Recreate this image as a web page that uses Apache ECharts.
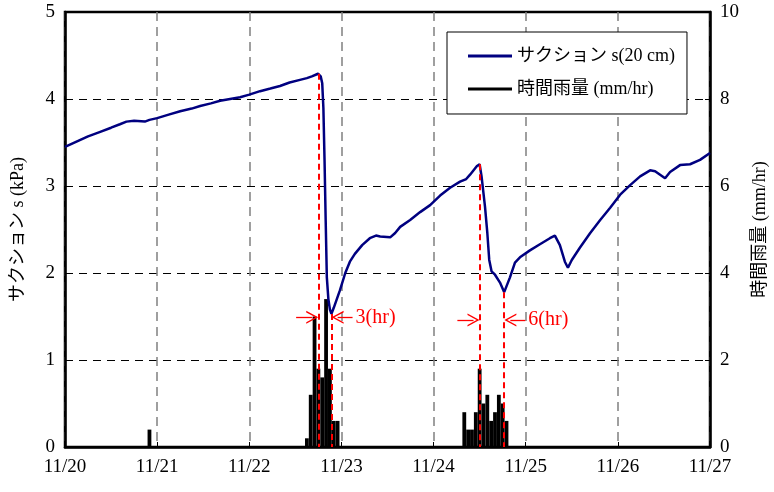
<!DOCTYPE html>
<html>
<head>
<meta charset="utf-8">
<script src="https://cdn.jsdelivr.net/npm/echarts@6/dist/echarts.min.js"></script>
<style>
  html, body { margin: 0; padding: 0; background: #fff; }
  #chart { width: 774px; height: 492px; }
</style>
</head>
<body>
<div id="chart"></div>
<script>
// Time axis in hours from 11/20 00:00; one label per day
const dayLabels = ['11/20', '11/21', '11/22', '11/23', '11/24', '11/25', '11/26', '11/27'];

// Suction at 20 cm depth (kPa)
const suctionHours = [
  0, 2, 4, 6, 9, 12, 14.3, 16, 18, 20.8, 22, 24, 27, 30, 33, 35.2, 38, 40.4, 43, 45.6,
  48, 50.8, 53.5, 56, 58.5, 61.2, 63, 64.3, 65.9, 66.6, 67.0, 67.3, 67.6, 67.9, 68.2, 68.6,
  69.0, 69.4, 70.0, 70.8, 71.6, 73.0, 74.2, 75.5, 77.4, 79.4, 81, 82.1, 84.7, 86.0, 87.3,
  89.9, 92.5, 95.1, 97.7, 100.3, 102.9, 104.5, 105.5, 107.3, 108.0, 108.5, 109.4, 110.0,
  110.5, 111.1, 112.0, 113.3, 114.4, 115.9, 117.2, 118.5, 121.1, 123.7, 126.3, 127.6,
  128.9, 130.2, 131.0, 132.0, 134.1, 136.8, 139.4, 142.0, 144.6, 147.2, 149.8, 152.4,
  153.7, 156.3, 157.6, 160.2, 162.8, 165.4, 168
];
const suctionKPa = [
  3.45, 3.49, 3.53, 3.57, 3.62, 3.67, 3.71, 3.74, 3.75, 3.74, 3.76, 3.78, 3.82, 3.86, 3.89, 3.92, 3.95, 3.98, 4.00, 4.02,
  4.05, 4.09, 4.12, 4.15, 4.19, 4.22, 4.24, 4.26, 4.29, 4.26, 4.18, 3.90, 3.30, 2.60, 1.95, 1.70,
  1.58, 1.53, 1.60, 1.70, 1.80, 2.00, 2.13, 2.22, 2.32, 2.40, 2.43, 2.42, 2.41, 2.46, 2.53,
  2.61, 2.70, 2.78, 2.89, 2.98, 3.05, 3.08, 3.13, 3.23, 3.25, 3.11, 2.76, 2.46,
  2.15, 2.02, 1.98, 1.89, 1.78, 1.95, 2.12, 2.18, 2.26, 2.33, 2.40, 2.43,
  2.32, 2.13, 2.06, 2.15, 2.29, 2.46, 2.61, 2.75, 2.90, 3.01, 3.11, 3.18,
  3.17, 3.09, 3.16, 3.24, 3.25, 3.30, 3.38
];

// Hourly rainfall (mm/hr), non-zero hours only
const rainHours = [22, 63, 64, 65, 66, 67, 68, 69, 70, 71,
  104, 105, 106, 107, 108, 109, 110, 111, 112, 113, 114, 115];
const rainMM = [0.4, 0.2, 1.2, 3.0, 1.8, 1.6, 3.4, 1.8, 0.6, 0.6,
  0.8, 0.4, 0.4, 0.8, 1.8, 1.0, 1.2, 0.6, 0.8, 1.2, 1.0, 0.6];

// Lag between rainfall peak and suction minimum
const lagStartHours = [66.0, 108.0];
const lagEndHours = [69.4, 114.4];
const lagTopKPa = [4.29, 1.53, 3.25, 1.78];
const lagArrowKPa = [1.49, 1.46];
const lagLabels = ['3(hr)', '6(hr)'];

const serif = '"Liberation Serif", "Times New Roman", "Noto Sans CJK JP", serif';
const chevron = 'path://M0,10 L5,0 L10,10 L8.8,10 L5,2.4 L1.2,10 Z';

const suctionData = suctionHours.map((h, i) => [h, suctionKPa[i]]);
const rainData = rainHours.map((h, i) => [h, rainMM[i]]);

const redDash = { color: '#ff0000', width: 2, type: [6, 4] };
const redSolid = { color: '#ff0000', width: 1.3, type: 'solid' };

const markLines = [];
lagStartHours.forEach((h0, k) => {
  const h1 = lagEndHours[k];
  markLines.push([{ coord: [h0, lagTopKPa[2 * k]], lineStyle: redDash, symbol: 'none' },
                  { coord: [h0, 0], symbol: 'none' }]);
  markLines.push([{ coord: [h1, lagTopKPa[2 * k + 1]], lineStyle: redDash, symbol: 'none' },
                  { coord: [h1, 0], symbol: 'none' }]);
  const y = lagArrowKPa[k];
  markLines.push([{ coord: [h0 - 5.8, y], lineStyle: redSolid, symbol: 'none' },
                  { coord: [h0 - 1.6, y], symbol: chevron, symbolSize: [13, 12] }]);
  markLines.push([{ coord: [h1 + 5.5, y], lineStyle: redSolid, symbol: 'none' },
                  { coord: [h1 + 1.6, y], symbol: chevron, symbolSize: [13, 12] }]);
});

const markPoints = lagStartHours.map((h0, k) => ({
  coord: [lagEndHours[k] + 5.5, lagArrowKPa[k]],
  symbol: 'circle',
  symbolSize: 0,
  label: {
    show: true, position: 'right', distance: 3,
    formatter: lagLabels[k],
    color: '#ff0000', fontSize: 20, fontFamily: serif
  }
}));

const chart = echarts.init(document.getElementById('chart'), null, { renderer: 'canvas' });
chart.setOption({
  animation: false,
  backgroundColor: '#ffffff',
  grid: {
    left: 65, right: 64, top: 12, bottom: 45,
    containLabel: false,
    outerBoundsMode: 'none',
    show: true, borderColor: '#000', borderWidth: 2.5, backgroundColor: 'transparent'
  },
  legend: {
    left: 447, top: 32,
    orient: 'vertical',
    backgroundColor: '#fff',
    borderColor: '#000', borderWidth: 1,
    padding: [15, 12, 16, 21],
    itemGap: 15,
    itemWidth: 44, itemHeight: 3,
    icon: 'rect',
    textStyle: { fontSize: 18, fontFamily: serif, color: '#000' },
    data: ['サクション s(20 cm)', '時間雨量 (mm/hr)']
  },
  xAxis: {
    type: 'value', min: 0, max: 168, interval: 24,
    axisLine: { show: true, lineStyle: { color: '#000', width: 2.5 } },
    axisTick: { show: true, inside: true, length: 5, lineStyle: { color: '#000', width: 1 } },
    axisLabel: {
      margin: 11, fontSize: 19, fontFamily: serif, color: '#000',
      formatter: v => dayLabels[Math.round(v / 24)]
    },
    splitLine: { show: true, lineStyle: { color: '#808080', width: 1.5, type: [9, 6] } }
  },
  yAxis: [{
    type: 'value', min: 0, max: 5, interval: 1, position: 'left',
    name: 'サクション s (kPa)', nameLocation: 'middle', nameRotate: 90, nameGap: 38,
    nameTextStyle: { fontSize: 18, fontFamily: serif, color: '#000' },
    axisLine: { show: true, lineStyle: { color: '#000', width: 2.5 } },
    axisTick: { show: true, inside: true, length: 5, lineStyle: { color: '#000', width: 1 } },
    axisLabel: { margin: 10, fontSize: 19, fontFamily: serif, color: '#000' },
    splitLine: { show: true, lineStyle: { color: '#000', width: 1, type: [8, 6] } }
  }, {
    type: 'value', min: 0, max: 10, interval: 2, position: 'right',
    name: '時間雨量 (mm/hr)', nameLocation: 'middle', nameRotate: 90, nameGap: 41,
    nameTextStyle: { fontSize: 18, fontFamily: serif, color: '#000' },
    axisLine: { show: true, lineStyle: { color: '#000', width: 2.5 } },
    axisTick: { show: true, inside: true, length: 5, lineStyle: { color: '#000', width: 1 } },
    axisLabel: { margin: 10, fontSize: 19, fontFamily: serif, color: '#000' },
    splitLine: { show: false }
  }],
  series: [{
    name: '時間雨量 (mm/hr)',
    type: 'bar',
    yAxisIndex: 1,
    data: rainData,
    barWidth: 3.8,
    itemStyle: { color: '#000' },
    z: 2
  }, {
    name: 'サクション s(20 cm)',
    type: 'line',
    yAxisIndex: 0,
    data: suctionData,
    showSymbol: false,
    symbol: 'none',
    lineStyle: { color: '#000080', width: 2.5 },
    itemStyle: { color: '#000080' },
    z: 3,
    markLine: {
      silent: true,
      symbol: 'none',
      label: { show: false },
      data: markLines
    },
    markPoint: {
      silent: true,
      data: markPoints
    }
  }]
});
</script>
</body>
</html>
